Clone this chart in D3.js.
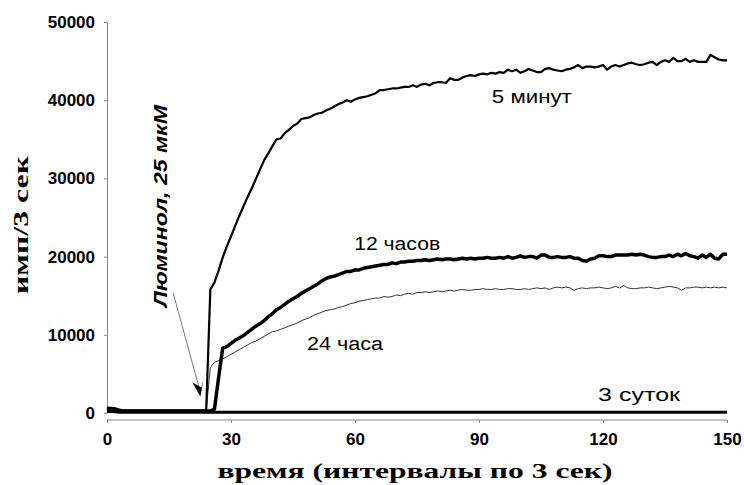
<!DOCTYPE html>
<html>
<head>
<meta charset="utf-8">
<script src="https://cdn.jsdelivr.net/npm/d3@7"></script>
<style>
  body { margin: 0; background: #fff; }
  svg { display: block; }
</style>
</head>
<body>
<div id="chart"></div>
<script>
// Data: time in 3-second intervals, counts per 3 s
var time = d3.range(0, 151);

var min5 = [
  700, 650, 600, 450, 350, 300, 300, 300, 300, 300, 300, 300, 300, 300, 300, 300, 300, 300, 300, 300,
  300, 300, 300, 300, 400, 15800, 16700, 18200, 19900, 21300, 22600, 23900, 25200, 26400, 27600, 28700, 29900, 31100, 32300, 33200,
  34100, 35000, 35100, 35800, 36200, 36700, 37000, 37600, 37700, 37800, 38100, 38300, 38400, 38700, 38900, 39200, 39500, 39700, 40000, 39800,
  40100, 40300, 40400, 40500, 40700, 40900, 41300, 41300, 41400, 41500, 41500, 41600, 41700, 41700, 41900, 41700, 42000, 42100, 41900, 42200,
  42300, 42300, 42200, 42800, 42600, 42600, 42900, 43100, 43200, 43100, 43300, 43400, 43300, 43500, 43400, 43600, 43500, 43900, 43700, 43900,
  43500, 43700, 44000, 43800, 43600, 43600, 44000, 44100, 43900, 43800, 43700, 43900, 44000, 44200, 44500, 44100, 44300, 44300, 44200, 44300,
  44500, 43900, 44300, 44500, 44300, 44500, 44700, 44800, 44600, 44500, 44600, 44800, 44900, 44500, 44900, 45100, 44900, 45400, 45000, 45000,
  45300, 44900, 45100, 44900, 44900, 44900, 45800, 45500, 45200, 45100, 45100
];

var h12 = [
  350, 400, 350, 250, 250, 250, 250, 250, 250, 250, 250, 250, 250, 250, 250, 250, 250, 250, 250, 250,
  250, 250, 250, 250, 250, 250, 500, 4500, 8300, 8500, 8900, 9300, 9600, 9900, 10300, 10700, 11100, 11400, 11800, 12300,
  12700, 13200, 13500, 13900, 14300, 14600, 14900, 15300, 15600, 15900, 16200, 16500, 16900, 17200, 17400, 17500, 17700, 17900, 18100, 18100,
  18300, 18300, 18500, 18600, 18700, 18800, 18900, 19000, 19000, 19200, 19100, 19300, 19300, 19400, 19400, 19500, 19500, 19600, 19500, 19600,
  19700, 19600, 19700, 19700, 19600, 19700, 19800, 19700, 19800, 19700, 19800, 19800, 19900, 19800, 19800, 19900, 19800, 20000, 19800, 19900,
  20100, 19900, 20000, 20000, 19800, 20200, 20200, 19900, 19900, 20000, 19900, 19900, 20000, 19800, 19800, 19500, 19400, 19700, 19800, 20100,
  20100, 20000, 20000, 20200, 20200, 20200, 20200, 20300, 20200, 20300, 20200, 20000, 19900, 19900, 20000, 20000, 20200, 20000, 20300, 20100,
  20400, 20100, 20000, 19800, 20200, 19900, 20300, 19800, 19700, 20300, 20300
];

var h24 = [
  600, 500, 450, 350, 300, 300, 300, 300, 300, 300, 300, 300, 300, 300, 300, 300, 300, 300, 300, 300,
  300, 300, 300, 300, 350, 5800, 6500, 6700, 6900, 7200, 7500, 7800, 8100, 8400, 8700, 9000, 9200, 9500, 9800, 10100,
  10400, 10500, 10700, 10900, 11100, 11300, 11500, 11800, 12000, 12200, 12500, 12700, 12900, 13100, 13200, 13300, 13500, 13600, 13800, 14000,
  14100, 14300, 14400, 14500, 14600, 14700, 14700, 14900, 14800, 14900, 15100, 15000, 15200, 15300, 15200, 15400, 15400, 15500, 15400, 15500,
  15600, 15500, 15600, 15700, 15600, 15700, 15800, 15700, 15700, 15800, 15800, 15900, 15800, 15800, 15900, 15800, 15800, 15900, 15900, 15800,
  15800, 15900, 15800, 15900, 16000, 15900, 16000, 15800, 16000, 16100, 16000, 16100, 16000, 15700, 15900, 16000, 15900, 16000, 16000, 16100,
  16000, 15900, 16000, 16200, 16000, 16300, 16000, 15900, 15900, 16000, 16000, 16100, 16000, 15900, 16000, 16100, 16200, 16100, 16000, 15700,
  16000, 16000, 16100, 16100, 16000, 16100, 16000, 16100, 16000, 16100, 16000
];

var d3days = [
  200, 200, 150, 100, 100, 100, 100, 100, 100, 100, 100, 100, 100, 100, 100, 100, 100, 100, 100, 100,
  100, 100, 100, 100, 100, 100, 100, 100, 100, 100, 100, 100, 100, 100, 100, 100, 100, 100, 100, 100,
  100, 100, 100, 100, 100, 100, 100, 100, 100, 100, 100, 100, 100, 100, 100, 100, 100, 100, 100, 100,
  100, 100, 100, 100, 100, 100, 100, 100, 100, 100, 100, 100, 100, 100, 100, 100, 100, 100, 100, 100,
  100, 100, 100, 100, 100, 100, 100, 100, 100, 100, 100, 100, 100, 100, 100, 100, 100, 100, 100, 100,
  100, 100, 100, 100, 100, 100, 100, 100, 100, 100, 100, 100, 100, 100, 100, 100, 100, 100, 100, 100,
  100, 100, 100, 100, 100, 100, 100, 100, 100, 100, 100, 100, 100, 100, 100, 100, 100, 100, 100, 100,
  100, 100, 100, 100, 100, 100, 100, 100, 100, 100, 100
];

var xTicks = [0, 30, 60, 90, 120, 150];
var yTicks = [0, 10000, 20000, 30000, 40000, 50000];

//Width and height
var chart_width  = 744;
var chart_height = 485;

var x = d3.scaleLinear().domain([0, 150]).range([107, 727]);
var y = d3.scaleLinear().domain([0, 50000]).range([413, 22]);

var svg = d3.select("#chart")
    .append("svg")
    .attr("width", chart_width)
    .attr("height", chart_height);

// Axes
var yAxis = svg.append("g")
    .attr("transform", "translate(107,0)")
    .call(d3.axisLeft(y).tickValues(yTicks).tickFormat(d3.format("d"))
        .tickSize(3).tickSizeOuter(0).tickPadding(9));

var xAxis = svg.append("g")
    .attr("transform", "translate(0,420)")
    .call(d3.axisBottom(x).tickValues(xTicks)
        .tickSize(3).tickSizeOuter(0).tickPadding(10));

[yAxis, xAxis].forEach(function(g) {
    g.select(".domain").attr("stroke", "#888");
    g.selectAll(".tick line").attr("stroke", "#888");
    g.selectAll(".tick text")
        .attr("fill", "#000")
        .style("font-family", "'Liberation Sans', Arial, sans-serif")
        .style("font-weight", "bold")
        .style("font-size", "17px");
});
xAxis.select(".domain").attr("d", "M107,0H727");

// Lines
var line = d3.line()
    .x(function(d, i) { return x(time[i]); })
    .y(function(d) { return y(d); });

var series = [
    { values: h24,    width: 1,   color: "#333" },
    { values: h12,    width: 3.5, color: "#000" },
    { values: min5,   width: 2.2, color: "#000" },
    { values: d3days, width: 3,   color: "#000" }
];

svg.selectAll("path.series")
    .data(series)
    .enter()
    .append("path")
    .attr("class", "series")
    .attr("d", function(d) { return line(d.values); })
    .attr("fill", "none")
    .attr("stroke", function(d) { return d.color; })
    .attr("stroke-width", function(d) { return d.width; })
    .attr("stroke-linejoin", "round");

// Series labels
var labels = [
    { text: "5  минут",  t: 93.1,  v: 39640, len: 80 },
    { text: "12  часов", t: 59.8,  v: 20840, len: 86 },
    { text: "24  часа",  t: 48.4,  v: 8060,  len: 76 },
    { text: "3  суток",  t: 118.8, v: 1530,  len: 82 }
];

svg.selectAll("text.label")
    .data(labels)
    .enter()
    .append("text")
    .attr("class", "label")
    .attr("x", function(d) { return x(d.t); })
    .attr("y", function(d) { return y(d.v); })
    .attr("textLength", function(d) { return d.len; })
    .attr("lengthAdjust", "spacingAndGlyphs")
    .style("font-family", "'Liberation Sans', Arial, sans-serif")
    .style("font-size", "18px")
    .text(function(d) { return d.text; });

// Annotation: arrow + rotated text
svg.append("line")
    .attr("x1", x(16)).attr("y1", y(15350))
    .attr("x2", x(22.3)).attr("y2", y(3200))
    .attr("stroke", "#777")
    .attr("stroke-width", 1);

var tipX = x(22.6), tipY = y(2100);
svg.append("path")
    .attr("d", "M" + tipX + "," + tipY + "L" + (tipX - 8) + "," + (tipY - 14) + "L" + (tipX + 1) + "," + (tipY - 9) + "L" + (tipX + 3) + "," + (tipY - 17) + "Z")
    .attr("fill", "#000");

svg.append("text")
    .attr("transform", "translate(167,307) rotate(-90)")
    .attr("textLength", 202)
    .attr("lengthAdjust", "spacingAndGlyphs")
    .style("font-family", "'Liberation Sans', Arial, sans-serif")
    .style("font-weight", "bold")
    .style("font-style", "italic")
    .style("font-size", "19px")
    .text("Люминол,  25  мкМ");

// Axis titles
svg.append("text")
    .attr("x", 415)
    .attr("y", 478)
    .attr("text-anchor", "middle")
    .attr("textLength", 395)
    .attr("lengthAdjust", "spacingAndGlyphs")
    .style("font-family", "'Liberation Serif', 'Times New Roman', serif")
    .style("font-weight", "bold")
    .style("font-size", "21px")
    .text("время  (интервалы  по  3  сек)");

svg.append("text")
    .attr("transform", "translate(28,225) rotate(-90)")
    .attr("text-anchor", "middle")
    .attr("textLength", 138)
    .attr("lengthAdjust", "spacingAndGlyphs")
    .style("font-family", "'Liberation Serif', 'Times New Roman', serif")
    .style("font-weight", "bold")
    .style("font-size", "21px")
    .text("имп/3  сек");
</script>
</body>
</html>
